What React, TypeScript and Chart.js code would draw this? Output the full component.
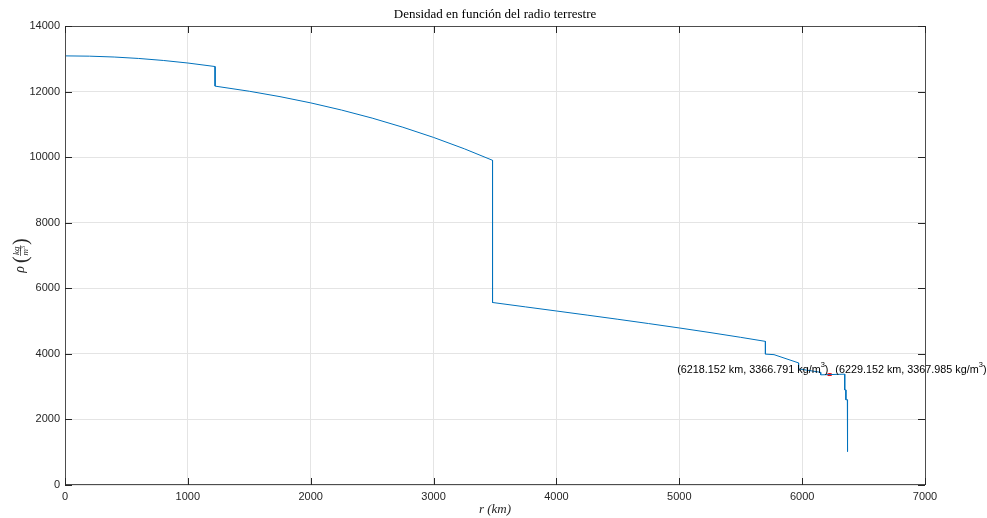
import React, { useEffect, useRef } from "react";
import { Chart, registerables } from "chart.js";
Chart.register(...registerables);

// Radius (km) and density (kg/m^3) (step profile)
const radiusKm = [
  0, 200, 400, 600, 800, 1000, 1221.5,
  1221.5, 1500, 1750, 2000, 2250, 2500, 2750, 3000, 3250, 3480,
  3480, 3750, 4000, 4250, 4500, 4750, 5000, 5250, 5500, 5701,
  5701, 5771, 5971,
  5971, 6151,
  6151, 6291, 6346.6,
  6346.6, 6356,
  6356, 6368,
  6368, 6371,
];
const densityKgM3 = [
  13088.5, 13079.8, 13053.7, 13010.1, 12949.1, 12870.8, 12763.6,
  12166.3, 12009.9, 11845.0, 11654.8, 11437.4, 11190.7, 10912.7, 10601.5, 10255.1, 9903.4,
  5566.5, 5431.7, 5307.3, 5182.0, 5054.7, 4924.4, 4789.8, 4650.0, 4503.7, 4380.7,
  3992.1, 3975.8, 3723.8,
  3543.3, 3435.8,
  3359.5, 3374.7, 3380.7,
  2900, 2900,
  2600, 2600,
  1020, 1020,
];

const tipRadius = [6218.152, 6229.152];
const tipDensity = [3366.791, 3367.985];
const tipSide = ["left", "right"];

const xTickValues = [0, 1000, 2000, 3000, 4000, 5000, 6000, 7000];
const yTickValues = [0, 2000, 4000, 6000, 8000, 10000, 12000, 14000];

const titleText = "Densidad en función del radio terrestre";

const W = 987;
const H = 518;

const textPlugin = {
  id: "matlabTexts",
  afterDraw(chart: any) {
    const ctx: CanvasRenderingContext2D = chart.ctx;
    const ca = chart.chartArea;
    const xs = chart.scales.x;
    const ys = chart.scales.y;
    ctx.save();
    // box
    ctx.strokeStyle = "#4d4d4d";
    ctx.lineWidth = 1;
    ctx.strokeRect(Math.round(ca.left) + 0.5, Math.round(ca.top) + 0.5, Math.round(ca.right - ca.left), Math.round(ca.bottom - ca.top) - 1);
    // inward ticks
    const tl = 7;
    ctx.strokeStyle = "#262626";
    ctx.beginPath();
    xTickValues.forEach((v) => {
      const px = Math.round(xs.getPixelForValue(v)) + 0.5;
      ctx.moveTo(px, ca.bottom);
      ctx.lineTo(px, ca.bottom - tl);
      ctx.moveTo(px, ca.top);
      ctx.lineTo(px, ca.top + tl);
    });
    yTickValues.forEach((v) => {
      const py = Math.round(ys.getPixelForValue(v)) + 0.5;
      ctx.moveTo(ca.left, py);
      ctx.lineTo(ca.left + tl, py);
      ctx.moveTo(ca.right, py);
      ctx.lineTo(ca.right - tl, py);
    });
    ctx.stroke();

    const cx = (ca.left + ca.right) / 2;
    // title
    ctx.fillStyle = "#000";
    ctx.font = "13px 'Liberation Serif', 'DejaVu Serif', serif";
    ctx.textAlign = "center";
    ctx.textBaseline = "middle";
    ctx.fillText(titleText, cx, 15);

    // x label
    ctx.fillStyle = "#262626";
    ctx.font = "italic 13px 'Liberation Serif', serif";
    ctx.fillText("r (km)", cx, 510);

    // y label (rotated)
    ctx.save();
    ctx.translate(20, (ca.top + ca.bottom) / 2);
    ctx.rotate(-Math.PI / 2);
    ctx.textBaseline = "alphabetic";
    ctx.textAlign = "left";
    const big = "italic 14px 'Liberation Serif', serif";
    const par = "20px 'Liberation Serif', serif";
    const small = "italic 9px 'Liberation Serif', serif";
    const tiny = "6px 'Liberation Serif', serif";
    ctx.font = big;
    const wRho = ctx.measureText("ρ").width;
    ctx.font = par;
    const wSp = 3;
    const wPar = ctx.measureText("(").width;
    ctx.font = small;
    const wKg = ctx.measureText("kg").width;
    const wM = ctx.measureText("m").width;
    ctx.font = tiny;
    const w3 = ctx.measureText("3").width;
    const wFrac = Math.max(wKg, wM + w3) + 2;
    const total = wRho + wSp + wPar * 2 + wFrac;
    let x0 = -total / 2;
    const base = 4;
    ctx.font = big;
    ctx.fillText("ρ", x0, base);
    x0 += wRho + wSp;
    ctx.font = par;
    ctx.fillText("(", x0, base + 3);
    x0 += wPar;
    ctx.font = small;
    ctx.fillText("kg", x0 + (wFrac - wKg) / 2, -1.5);
    ctx.fillRect(x0 + 0.5, 0.2, wFrac - 1, 0.7);
    const mStart = x0 + (wFrac - wM - w3) / 2;
    ctx.fillText("m", mStart, 7.5);
    ctx.font = tiny;
    ctx.fillText("3", mStart + wM, 4.5);
    x0 += wFrac;
    ctx.font = par;
    ctx.fillText(")", x0, base + 3);
    ctx.restore();

    // data tip labels
    tipRadius.forEach((r, i) => {
      const px = xs.getPixelForValue(r);
      const py = ys.getPixelForValue(tipDensity[i]);
      const main = `(${r.toFixed(3)} km, ${tipDensity[i].toFixed(3)} kg/m`;
      const font = "10.8px 'Liberation Sans', Arial, sans-serif";
      const supFont = "7.5px 'Liberation Sans', Arial, sans-serif";
      ctx.font = font;
      const wMain = ctx.measureText(main).width;
      const wClose = ctx.measureText(")").width;
      ctx.font = supFont;
      const wSup = ctx.measureText("3").width;
      const totalW = wMain + wSup + wClose;
      const startX = tipSide[i] === "left" ? px - 0.5 - totalW : px + 5;
      const ty = py - 5;
      ctx.fillStyle = "#000";
      ctx.textAlign = "left";
      ctx.textBaseline = "middle";
      ctx.font = font;
      ctx.fillText(main, startX, ty);
      ctx.font = supFont;
      ctx.fillText("3", startX + wMain, ty - 5);
      ctx.font = font;
      ctx.fillText(")", startX + wMain + wSup, ty);
    });
    ctx.restore();
  },
};

export default function App() {
  const ref = useRef<HTMLCanvasElement | null>(null);
  useEffect(() => {
    if (!ref.current) return;
    const points = radiusKm.map((r, i) => ({ x: r, y: densityKgM3[i] }));
    const tips = tipRadius.map((r, i) => ({ x: r, y: tipDensity[i] }));
    const tickFont = { family: "'Liberation Sans', Arial, sans-serif", size: 11 };
    const fmt = (v: any) => String(v);
    const chart = new Chart(ref.current, {
      type: "scatter",
      data: {
        datasets: [
          {
            data: points,
            showLine: true,
            borderColor: "rgb(0,114,189)",
            borderWidth: 1,
            pointRadius: 0,
            fill: false,
          },
          {
            data: tips,
            showLine: false,
            pointStyle: "rect",
            pointRadius: 2,
            backgroundColor: "#ff0000",
            borderColor: "#ff0000",
            borderWidth: 0,
          },
        ],
      },
      options: {
        responsive: false,
        animation: false,
        layout: { padding: { top: 26, right: 62, left: 0, bottom: 0 } },
        plugins: {
          legend: { display: false },
          tooltip: { enabled: false },
          title: { display: false },
        },
        scales: {
          x: {
            type: "linear",
            min: 0,
            max: 7000,
            afterFit: (s: any) => {
              s.height = 33;
            },
            afterBuildTicks: (s: any) => {
              s.ticks = xTickValues.map((v) => ({ value: v }));
            },
            ticks: { font: tickFont, color: "#262626", padding: 5, maxRotation: 0, callback: fmt },
            grid: { color: "#e4e4e4", drawTicks: false },
            border: { display: false },
          },
          y: {
            type: "linear",
            min: 0,
            max: 14000,
            afterFit: (s: any) => {
              s.width = 65;
            },
            afterBuildTicks: (s: any) => {
              s.ticks = yTickValues.map((v) => ({ value: v }));
            },
            ticks: { font: tickFont, color: "#262626", padding: 5, callback: fmt },
            grid: { color: "#e4e4e4", drawTicks: false },
            border: { display: false },
          },
        },
      },
      plugins: [textPlugin],
    });
    return () => chart.destroy();
  }, []);
  return (
    <div style={{ position: "fixed", left: 0, top: 0, width: W, height: H, background: "#fff" }}>
      <canvas ref={ref} width={W} height={H} style={{ display: "block" }} />
    </div>
  );
}
